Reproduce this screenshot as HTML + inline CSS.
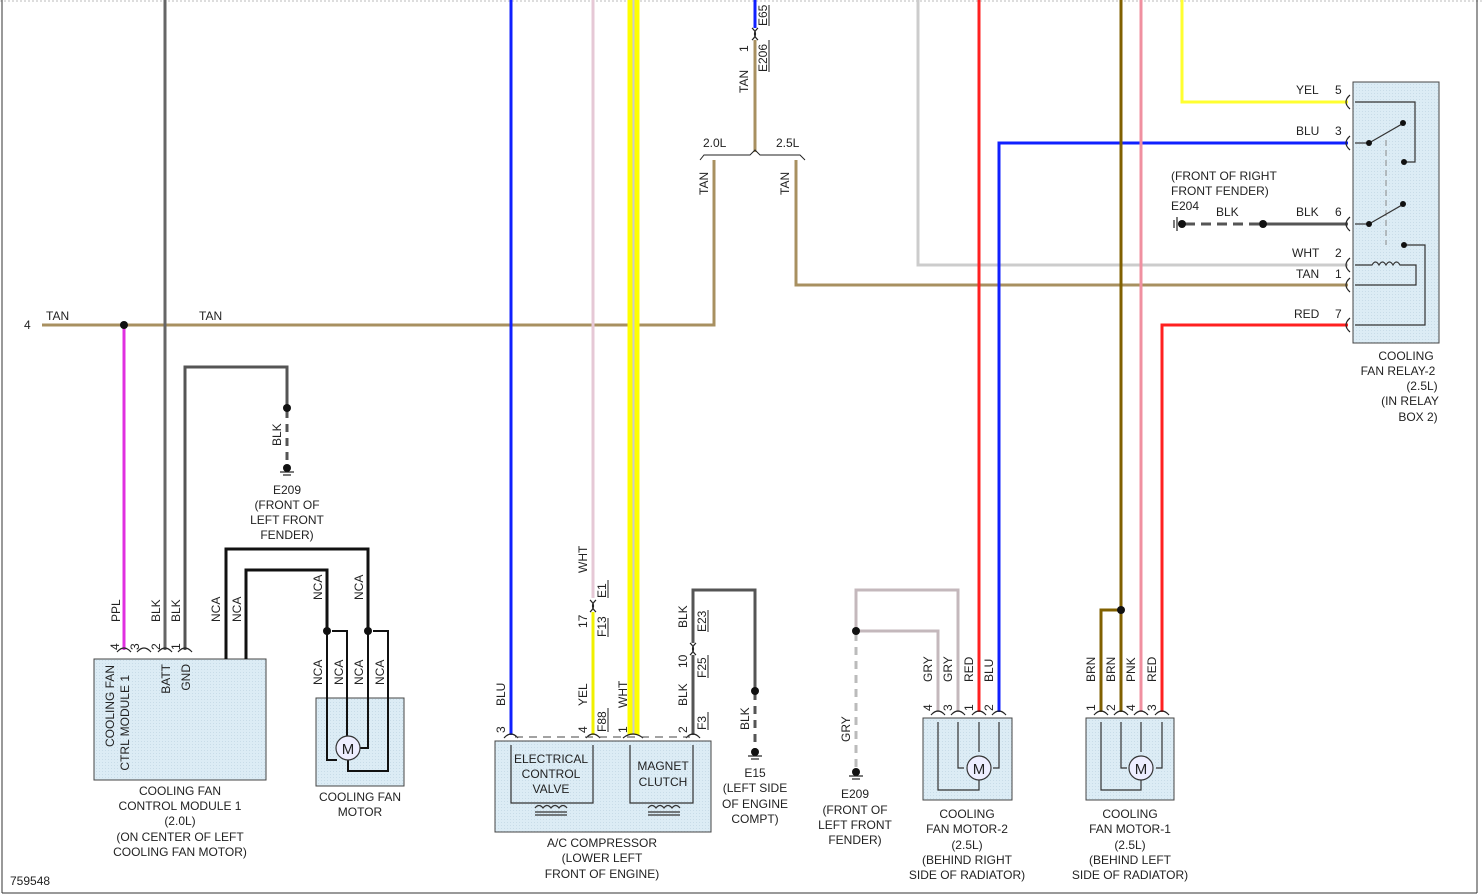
<!DOCTYPE html>
<html><head><meta charset="utf-8"><style>
html,body{margin:0;padding:0;background:#fff}
svg{display:block}
text{font-family:"Liberation Sans",sans-serif;font-size:12px;fill:#222}
.m{text-anchor:middle}
</style></head><body>
<svg width="1482" height="896" viewBox="0 0 1482 896" xmlns="http://www.w3.org/2000/svg">
<defs>
<pattern id="p" width="3" height="3" patternUnits="userSpaceOnUse"><rect width="3" height="3" fill="#dcecf5"/><rect width="1" height="1" fill="#c8dce8"/></pattern>
</defs>
<line x1="0" y1="1" x2="1482" y2="1" stroke="#bbb" stroke-dasharray="2,2"/>
<line x1="2" y1="0" x2="2" y2="893" stroke="#333"/>
<line x1="1477" y1="0" x2="1477" y2="893" stroke="#333"/>
<line x1="2" y1="893" x2="1477" y2="893" stroke="#333"/>

<rect x="94" y="659" width="172" height="121" fill="url(#p)" stroke="#444"/>
<rect x="316" y="698" width="88" height="88" fill="url(#p)" stroke="#444"/>
<rect x="495" y="741" width="216" height="91" fill="url(#p)" stroke="#444"/>
<rect x="923" y="718" width="89" height="82" fill="url(#p)" stroke="#444"/>
<rect x="1086" y="718" width="88" height="82" fill="url(#p)" stroke="#444"/>
<rect x="1353" y="82" width="86" height="261" fill="url(#p)" stroke="#444"/>

<g fill="none" stroke-width="3">
<polyline points="42,325 714,325 714,160" stroke="#a89060"/>
<polyline points="755,40 755,152" stroke="#a89060"/>
<polyline points="796,160 796,285 1348,285" stroke="#a89060"/>
<line x1="755" y1="0" x2="755" y2="28" stroke="#1020ff"/>
<line x1="124" y1="325" x2="124" y2="650" stroke="#e030e0"/>
<line x1="165" y1="0" x2="165" y2="650" stroke="#666"/>
<polyline points="185,650 185,367 287,367 287,408" stroke="#555"/>
<line x1="287" y1="410" x2="287" y2="466" stroke="#555" stroke-dasharray="8,6"/>
<polyline points="226,659 226,549 368,549 368,630" stroke="#111"/>
<polyline points="246,659 246,570 327,570 327,630" stroke="#111"/>
<polyline points="327,630 327,760 337,760" stroke="#111" stroke-width="2"/>
<polyline points="332,631 347,631 347,736" stroke="#111" stroke-width="2"/>
<polyline points="368,630 368,748 360,748" stroke="#111" stroke-width="2"/>
<polyline points="373,631 388,631 388,771 348,771 348,760" stroke="#111" stroke-width="2"/>
<line x1="511" y1="0" x2="511" y2="735" stroke="#1020ff"/>
<line x1="593" y1="0" x2="593" y2="598" stroke="#e6c8d6"/>
<line x1="593" y1="612" x2="593" y2="735" stroke="#f0f000"/>
<line x1="630" y1="0" x2="630" y2="735" stroke="#ffff00" stroke-width="5"/>
<line x1="637" y1="0" x2="637" y2="735" stroke="#ffff00" stroke-width="5"/>
<line x1="633.5" y1="0" x2="633.5" y2="735" stroke="#ccc" stroke-width="2"/>
<polyline points="693,735 693,655" stroke="#555"/>
<polyline points="693,643 693,590 755,590 755,690" stroke="#555"/>
<line x1="755" y1="692" x2="755" y2="750" stroke="#555" stroke-dasharray="8,6"/>
<polyline points="918,0 918,265 1348,265" stroke="#ccc"/>
<line x1="979" y1="0" x2="979" y2="712" stroke="#ff2020"/>
<polyline points="1348,143 999,143 999,712" stroke="#1020ff"/>
<polyline points="856,631 856,590 958,590 958,712" stroke="#c4b8bc"/>
<polyline points="856,631 938,631 938,712" stroke="#c4b8bc"/>
<line x1="856" y1="633" x2="856" y2="770" stroke="#bbb" stroke-dasharray="8,6"/>
<line x1="1121" y1="0" x2="1121" y2="712" stroke="#806000"/>
<polyline points="1121,610 1101,610 1101,712" stroke="#806000"/>
<line x1="1141" y1="0" x2="1141" y2="712" stroke="#f090a0"/>
<polyline points="1348,325 1162,325 1162,712" stroke="#ff2020"/>
<polyline points="1182,0 1182,102 1348,102" stroke="#ffff30"/>
<line x1="1185" y1="224" x2="1263" y2="224" stroke="#555" stroke-dasharray="10,6"/>
<line x1="1263" y1="224" x2="1348" y2="224" stroke="#555"/>
</g>

<g fill="#111">
<circle cx="124" cy="325" r="4"/><circle cx="287" cy="408" r="4"/><circle cx="287" cy="468" r="4"/>
<circle cx="327" cy="631" r="4"/><circle cx="368" cy="631" r="4"/>
<circle cx="755" cy="691" r="4"/><circle cx="755" cy="752" r="4"/>
<circle cx="856" cy="631" r="4"/><circle cx="856" cy="772" r="4"/>
<circle cx="1121" cy="610" r="4"/><circle cx="1263" cy="224" r="4"/><circle cx="1182" cy="224" r="4"/>
</g>
<g stroke="#222" stroke-width="1.2">
<line x1="280" y1="472" x2="294" y2="472"/><line x1="283" y1="475" x2="291" y2="475"/>
<line x1="748" y1="756" x2="762" y2="756"/><line x1="751" y1="759" x2="759" y2="759"/>
<line x1="849" y1="776" x2="863" y2="776"/><line x1="852" y1="779" x2="860" y2="779"/>
<line x1="1177" y1="217" x2="1177" y2="231"/><line x1="1174" y1="220" x2="1174" y2="228"/>
</g>

<polyline points="700,160 704,155 750,155 755,150 760,155 800,155 805,160" fill="none" stroke="#222"/>

<g fill="none" stroke="#222" stroke-width="1.2">
<path d="M117,652 q7,-8 14,0 M137,652 q7,-8 14,0 M158,652 q7,-8 14,0 M178,652 q7,-8 14,0"/>
<path d="M504,738 q7,-8 14,0 M586,738 q7,-8 14,0 M623,738 q10,-8 20,0 M686,738 q7,-8 14,0"/>
<path d="M931,715 q7,-8 14,0 M951,715 q7,-8 14,0 M972,715 q7,-8 14,0 M992,715 q7,-8 14,0"/>
<path d="M1094,715 q7,-8 14,0 M1114,715 q7,-8 14,0 M1134,715 q7,-8 14,0 M1155,715 q7,-8 14,0"/>
<path d="M1350,95 q-8,7 0,14 M1350,136 q-8,7 0,14 M1350,217 q-8,7 0,14 M1350,258 q-8,7 0,14 M1350,278 q-8,7 0,14 M1350,318 q-8,7 0,14"/>
<path d="M590,600 q7,6 0,12 M596,600 q-7,6 0,12" />
<path d="M690,643 q7,6 0,12 M696,643 q-7,6 0,12"/>
<path d="M752,28 q7,6 0,12 M758,28 q-7,6 0,12"/>
</g>
<line x1="515" y1="737" x2="690" y2="737" stroke="#444" stroke-dasharray="8,6"/>
<line x1="1386" y1="140" x2="1386" y2="245" stroke="#888" stroke-dasharray="6,4"/>

<g fill="none" stroke="#333" stroke-width="1.2">
<polyline points="511,745 511,803 593,803 593,745"/>
<polyline points="630,745 630,803 693,803 693,745"/>
<path d="M535,808 q4,-5 8,0 q4,-5 8,0 q4,-5 8,0 q4,-5 8,0"/><line x1="535" y1="812" x2="567" y2="812"/><line x1="535" y1="815" x2="567" y2="815"/>
<path d="M648,808 q4,-5 8,0 q4,-5 8,0 q4,-5 8,0 q4,-5 8,0"/><line x1="648" y1="812" x2="680" y2="812"/><line x1="648" y1="815" x2="680" y2="815"/>
<polyline points="938,722 938,790 979,790 979,780"/><polyline points="958,722 958,768 964,768"/><polyline points="979,722 979,752"/><polyline points="999,722 999,768 993,768"/>
<circle cx="979" cy="768" r="12" fill="#eef"/>
<polyline points="1101,722 1101,790 1141,790 1141,780"/><polyline points="1121,722 1121,768 1127,768"/><polyline points="1141,722 1141,752"/><polyline points="1162,722 1162,768 1156,768"/>
<circle cx="1141" cy="768" r="12" fill="#eef"/>
<circle cx="348" cy="748" r="12" fill="#eef"/>
<polyline points="1355,102 1415,102 1415,162 1404,162"/>
<line x1="1355" y1="143" x2="1369" y2="143"/><line x1="1369" y1="143" x2="1402" y2="124"/>
<line x1="1355" y1="224" x2="1369" y2="224"/><line x1="1369" y1="224" x2="1402" y2="205"/>
<polyline points="1404,245 1425,245 1425,325 1355,325"/>
<path d="M1355,265 L1372,265 q3.5,-6 7,0 q3.5,-6 7,0 q3.5,-6 7,0 q3.5,-6 7,0 L1416,265 L1416,285 L1355,285"/>
</g>
<g fill="#111"><circle cx="1369" cy="143" r="3"/><circle cx="1403" cy="123" r="3"/><circle cx="1404" cy="162" r="3"/><circle cx="1369" cy="224" r="3"/><circle cx="1403" cy="204" r="3"/><circle cx="1404" cy="245" r="3"/></g>
<g class="m"><text class="m" x="348" y="754" style="font-size:15px">M</text><text class="m" x="979" y="774" style="font-size:15px">M</text><text class="m" x="1141" y="774" style="font-size:15px">M</text></g>

<text x="24" y="329">4</text><text x="46" y="320">TAN</text><text x="199" y="320">TAN</text>
<text x="703" y="147">2.0L</text><text x="776" y="147">2.5L</text>
<text x="1296" y="94">YEL</text><text x="1335" y="94">5</text>
<text x="1296" y="135">BLU</text><text x="1335" y="135">3</text>
<text x="1216" y="216">BLK</text><text x="1296" y="216">BLK</text><text x="1335" y="216">6</text>
<text x="1292" y="257">WHT</text><text x="1335" y="257">2</text>
<text x="1296" y="278">TAN</text><text x="1335" y="278">1</text>
<text x="1294" y="318">RED</text><text x="1335" y="318">7</text>
<text x="1171" y="180">(FRONT OF RIGHT</text><text x="1171" y="195">FRONT FENDER)</text><text x="1171" y="210">E204</text>
<g>
<text class="m" x="1406" y="360">COOLING</text><text class="m" x="1398" y="375">FAN RELAY-2</text><text class="m" x="1422" y="390">(2.5L)</text><text class="m" x="1410" y="405">(IN RELAY</text><text class="m" x="1418" y="421">BOX 2)</text>
<text class="m" x="287" y="494">E209</text><text class="m" x="287" y="509">(FRONT OF</text><text class="m" x="287" y="524">LEFT FRONT</text><text class="m" x="287" y="539">FENDER)</text>
<text class="m" x="180" y="795">COOLING FAN</text><text class="m" x="180" y="810">CONTROL MODULE 1</text><text class="m" x="180" y="825">(2.0L)</text><text class="m" x="180" y="841">(ON CENTER OF LEFT</text><text class="m" x="180" y="856">COOLING FAN MOTOR)</text>
<text class="m" x="360" y="801">COOLING FAN</text><text class="m" x="360" y="816">MOTOR</text>
<text class="m" x="551" y="763">ELECTRICAL</text><text class="m" x="551" y="778">CONTROL</text><text class="m" x="551" y="793">VALVE</text>
<text class="m" x="663" y="770">MAGNET</text><text class="m" x="663" y="786">CLUTCH</text>
<text class="m" x="602" y="847">A/C COMPRESSOR</text><text class="m" x="602" y="862">(LOWER LEFT</text><text class="m" x="602" y="878">FRONT OF ENGINE)</text>
<text class="m" x="755" y="777">E15</text><text class="m" x="755" y="792">(LEFT SIDE</text><text class="m" x="755" y="808">OF ENGINE</text><text class="m" x="755" y="823">COMPT)</text>
<text class="m" x="855" y="798">E209</text><text class="m" x="855" y="814">(FRONT OF</text><text class="m" x="855" y="829">LEFT FRONT</text><text class="m" x="855" y="844">FENDER)</text>
<text class="m" x="967" y="818">COOLING</text><text class="m" x="967" y="833">FAN MOTOR-2</text><text class="m" x="967" y="849">(2.5L)</text><text class="m" x="967" y="864">(BEHIND RIGHT</text><text class="m" x="967" y="879">SIDE OF RADIATOR)</text>
<text class="m" x="1130" y="818">COOLING</text><text class="m" x="1130" y="833">FAN MOTOR-1</text><text class="m" x="1130" y="849">(2.5L)</text><text class="m" x="1130" y="864">(BEHIND LEFT</text><text class="m" x="1130" y="879">SIDE OF RADIATOR)</text>
</g>
<text x="10" y="885">759548</text>

<!-- internal rotated labels hanging down -->
<g text-anchor="end">
<text transform="translate(114,665) rotate(-90)">COOLING FAN</text>
<text transform="translate(129,675) rotate(-90)">CTRL MODULE 1</text>
<text transform="translate(170,664) rotate(-90)">BATT</text>
<text transform="translate(190,664) rotate(-90)">GND</text>
</g>
<!-- rotated labels rising from bottom point -->
<g text-anchor="start">
<text transform="translate(120,622) rotate(-90)">PPL</text>
<text transform="translate(160,622) rotate(-90)">BLK</text>
<text transform="translate(180,622) rotate(-90)">BLK</text>
<text transform="translate(220,622) rotate(-90)">NCA</text>
<text transform="translate(241,622) rotate(-90)">NCA</text>
<text transform="translate(322,600) rotate(-90)">NCA</text>
<text transform="translate(363,600) rotate(-90)">NCA</text>
<text transform="translate(322,685) rotate(-90)">NCA</text>
<text transform="translate(343,685) rotate(-90)">NCA</text>
<text transform="translate(363,685) rotate(-90)">NCA</text>
<text transform="translate(384,685) rotate(-90)">NCA</text>
<text transform="translate(281,446) rotate(-90)">BLK</text>
<text transform="translate(119,650) rotate(-90)">4</text>
<text transform="translate(139,650) rotate(-90)">3</text>
<text transform="translate(160,650) rotate(-90)">2</text>
<text transform="translate(180,650) rotate(-90)">1</text>
<text transform="translate(505,706) rotate(-90)">BLU</text>
<text transform="translate(505,733) rotate(-90)">3</text>
<text transform="translate(587,706) rotate(-90)">YEL</text>
<text transform="translate(587,733) rotate(-90)">4</text>
<text transform="translate(606,732) rotate(-90)">F88</text>
<text transform="translate(587,628) rotate(-90)">17</text>
<text transform="translate(606,637) rotate(-90)">F13</text>
<text transform="translate(606,598) rotate(-90)">E1</text>
<text transform="translate(587,573) rotate(-90)">WHT</text>
<text transform="translate(627,708) rotate(-90)">WHT</text>
<text transform="translate(627,733) rotate(-90)">1</text>
<text transform="translate(687,628) rotate(-90)">BLK</text>
<text transform="translate(706,632) rotate(-90)">E23</text>
<text transform="translate(687,668) rotate(-90)">10</text>
<text transform="translate(706,678) rotate(-90)">F25</text>
<text transform="translate(687,706) rotate(-90)">BLK</text>
<text transform="translate(687,733) rotate(-90)">2</text>
<text transform="translate(706,730) rotate(-90)">F3</text>
<text transform="translate(749,730) rotate(-90)">BLK</text>
<text transform="translate(767,26) rotate(-90)">E65</text>
<text transform="translate(748,52) rotate(-90)">1</text>
<text transform="translate(767,72) rotate(-90)">E206</text>
<text transform="translate(748,93) rotate(-90)">TAN</text>
<text transform="translate(708,195) rotate(-90)">TAN</text>
<text transform="translate(789,195) rotate(-90)">TAN</text>
<text transform="translate(850,742) rotate(-90)">GRY</text>
<text transform="translate(932,682) rotate(-90)">GRY</text>
<text transform="translate(952,682) rotate(-90)">GRY</text>
<text transform="translate(973,682) rotate(-90)">RED</text>
<text transform="translate(993,682) rotate(-90)">BLU</text>
<text transform="translate(932,711) rotate(-90)">4</text>
<text transform="translate(952,711) rotate(-90)">3</text>
<text transform="translate(973,711) rotate(-90)">1</text>
<text transform="translate(993,711) rotate(-90)">2</text>
<text transform="translate(1095,682) rotate(-90)">BRN</text>
<text transform="translate(1115,682) rotate(-90)">BRN</text>
<text transform="translate(1135,682) rotate(-90)">PNK</text>
<text transform="translate(1156,682) rotate(-90)">RED</text>
<text transform="translate(1095,711) rotate(-90)">1</text>
<text transform="translate(1115,711) rotate(-90)">2</text>
<text transform="translate(1135,711) rotate(-90)">4</text>
<text transform="translate(1156,711) rotate(-90)">3</text>
</g>
<g stroke="#222"><line x1="608" y1="580" x2="608" y2="598"/><line x1="608" y1="618" x2="608" y2="637"/><line x1="608" y1="708" x2="608" y2="732"/><line x1="708" y1="610" x2="708" y2="632"/><line x1="708" y1="655" x2="708" y2="678"/><line x1="708" y1="712" x2="708" y2="730"/><line x1="769" y1="5" x2="769" y2="26"/><line x1="769" y1="40" x2="769" y2="72"/></g>
</svg>
</body></html>
